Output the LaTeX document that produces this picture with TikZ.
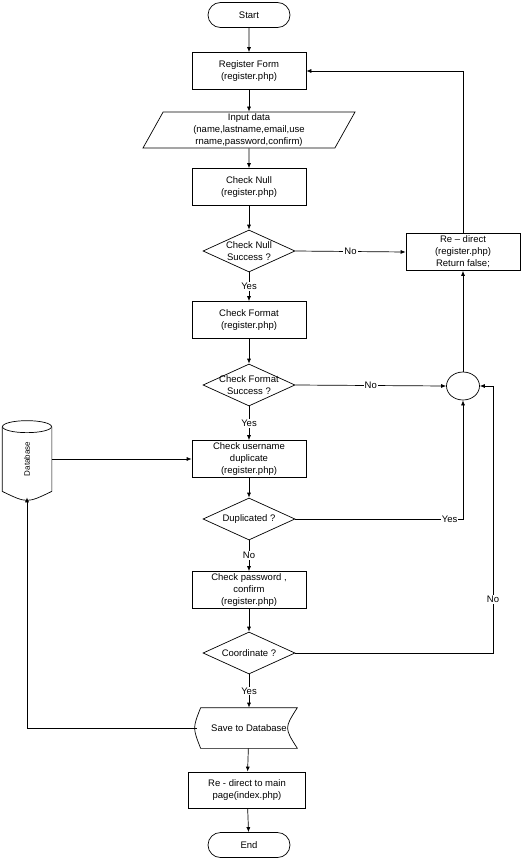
\documentclass[tikz,border=0pt]{standalone}
\usepackage{fontspec}
\setmainfont{Liberation Sans}
\usetikzlibrary{shapes.geometric,shapes.misc,arrows.meta}

\tikzset{
  terminal/.style={rounded rectangle, draw, minimum width=84pt, minimum height=25pt, inner sep=1pt},
  process/.style={rectangle, draw, minimum width=114pt, minimum height=37pt, align=center, inner sep=1pt},
  decision/.style={diamond, draw, aspect=2.2, minimum width=92pt, minimum height=42pt, inner sep=0pt},
  dectext/.style={align=center, inner sep=0pt},
  lbl/.style={fill=white, inner sep=1pt},
  flow/.style={-{Latex[length=5pt,width=4pt]}}
}

\begin{document}
\begin{tikzpicture}[x=1pt, y=-1pt, line width=0.7pt,
    font=\fontsize{9.5}{12}\selectfont]
    \useasboundingbox (0,0) rectangle (524,859);

    % main column
    \node (start) [terminal] at (249,15) {Start};
    \node (reg) [process] at (249,71) {Register Form\\(register.php)};
    \node (inp) [trapezium, trapezium left angle=60, trapezium right angle=120,
        trapezium stretches body, draw, minimum width=212pt, minimum height=36pt,
        align=center, inner sep=1pt] at (249,130)
        {Input data\\(name,lastname,email,use\\rname,password,confirm)};
    \node (cn) [process] at (249,187) {Check Null\\(register.php)};
    \node (dnull) [decision, label={[dectext]center:Check Null\\Success ?}] at (249,251) {};
    \node (cf) [process] at (249,320) {Check Format\\(register.php)};
    \node (dfmt) [decision, label={[dectext]center:Check Format\\Success ?}] at (249,385) {};
    \node (cu) [process] at (249,459) {Check username\\duplicate\\(register.php)};
    \node (ddup) [decision, label={[dectext]center:Duplicated ?}] at (249,519) {};
    \node (cp) [process] at (249,590) {Check password ,\\confirm\\(register.php)};
    \node (dco) [decision, label={[dectext]center:Coordinate ?}] at (249,653) {};
    \node (sv) [minimum width=96pt, minimum height=40pt, inner sep=0pt] at (249,728) {Save to Database};
    \node (rm) [process, minimum width=117pt, minimum height=36pt] at (247,790) {Re - direct to main\\page(index.php)};
    \node (end) [terminal] at (249,845) {End};

    % right side
    \node (rd) [process] at (463,252) {Re -- direct\\(register.php)\\Return false;};
    \node (jn) [ellipse, draw, minimum width=33pt, minimum height=28pt] at (463,386) {};
    \coordinate (cr) at (493,386);

    % database on the left
    \node (db) [minimum width=49pt, minimum height=76pt, inner sep=0pt] at (27,459) {};
    \node [rotate=90, font=\fontsize{8}{10}\selectfont] at (db) {Database};

    % outline of the cylinder
    \draw ([yshift=-6pt]db.north west) -- ([yshift=6pt]db.south west)
          .. controls ([yshift=-6pt]db.south) .. ([yshift=6pt]db.south east)
          -- ([yshift=-6pt]db.north east);
    \draw ([yshift=-6pt]db.north) ellipse [x radius=24.5pt, y radius=6pt];
    % outline of save to database
    \draw (sv.north west) -- (sv.north east)
          .. controls ([xshift=-13pt]sv.east) .. (sv.south east)
          -- (sv.south west)
          .. controls ([xshift=-8pt]sv.west) .. (sv.north west);
    \coordinate (svw) at ([xshift=-4pt]sv.west);

    % connectors
    \draw [flow] (start) -- (reg);
    \draw [flow] (reg) -- (inp);
    \draw [flow] (inp) -- (cn);
    \draw [flow] (cn) -- (dnull);
    \draw [flow] (dnull) -- node[lbl] {Yes} (cf);
    \draw [flow] (cf) -- (dfmt);
    \draw [flow] (dfmt) -- node[lbl] {Yes} (cu);
    \draw [flow] (cu) -- (ddup);
    \draw [flow] (ddup) -- node[lbl] {No} (cp);
    \draw [flow] (cp) -- (dco);
    \draw [flow] (dco) -- node[lbl] {Yes} (sv);
    \draw [flow] (sv) -- (rm);
    \draw [flow] (rm) -- (end);

    \draw [flow] (dnull.east) -- node[lbl] {No} (rd.west);
    \draw [flow] (rd.north) |- (reg.east);
    \draw [flow] (dfmt.east) -- node[lbl] {No} (jn.west);
    \draw [flow] (ddup.east) -| node[lbl, pos=0.46] {Yes} (jn.south);
    \draw [flow] (dco.east) -| node[lbl, pos=0.6] {No} (cr) -- (jn.east);
    \draw [flow] (jn.north) -- (rd.south);

    \draw [flow] (db.east) -- (cu.west);
    \draw [flow] (svw) -| (db.south);
\end{tikzpicture}
\end{document}
